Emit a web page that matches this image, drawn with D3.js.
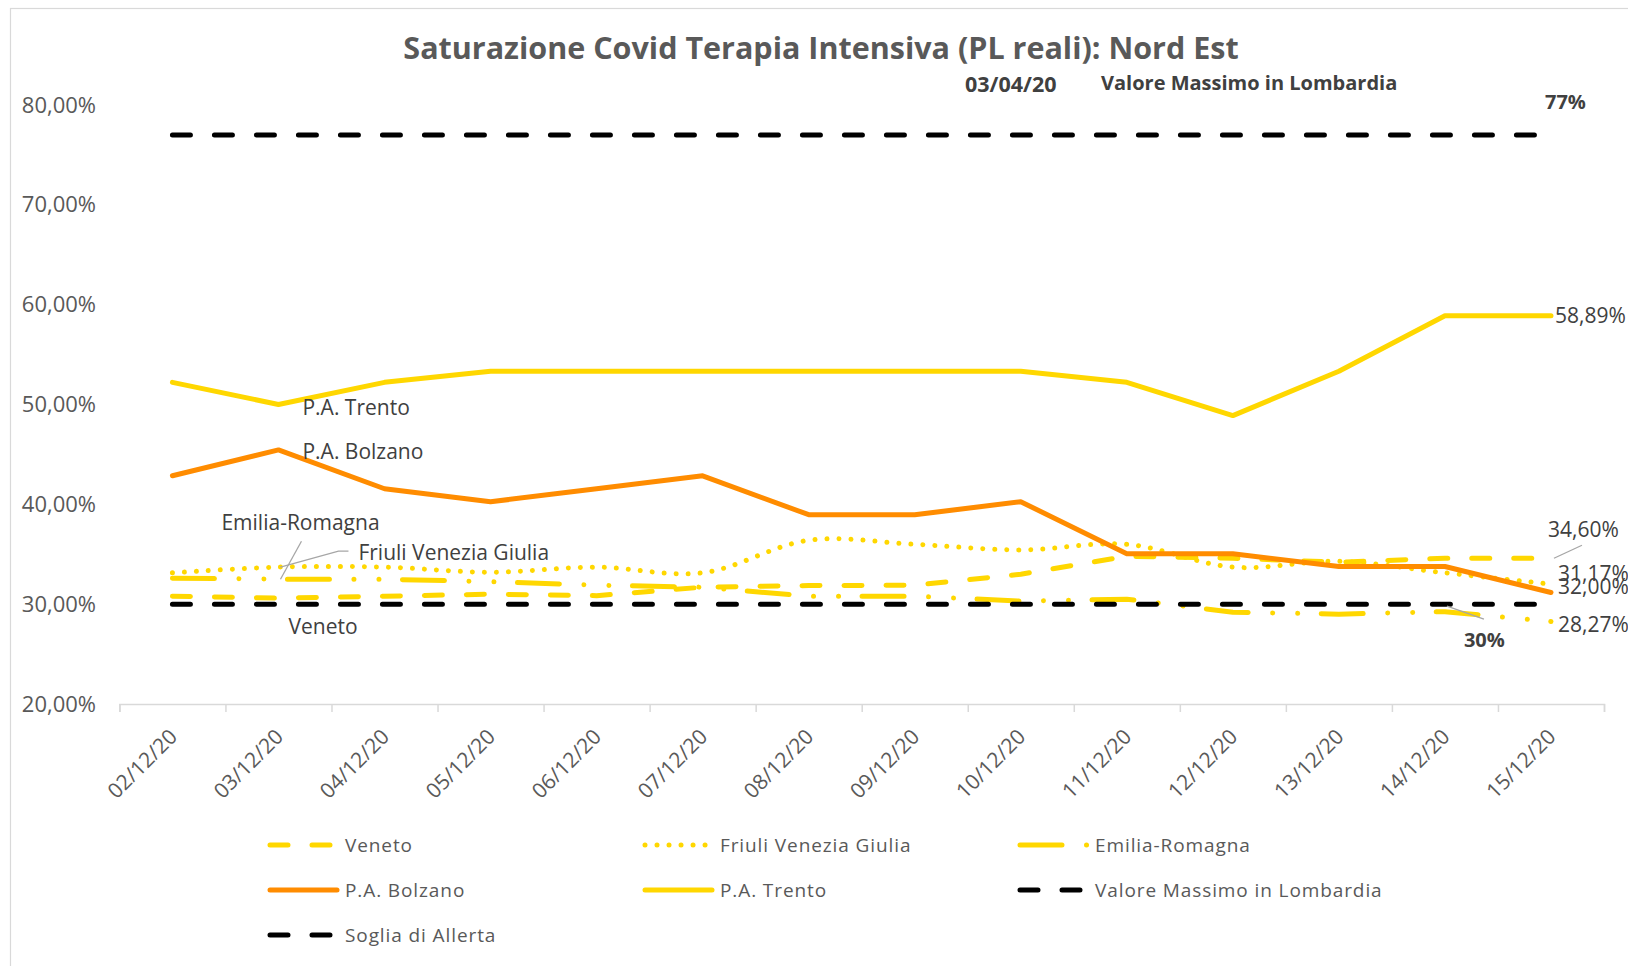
<!DOCTYPE html>
<html>
<head>
<meta charset="utf-8">
<script src="https://d3js.org/d3.v7.min.js"></script>
<style>
  body { margin: 0; background: #fff; }
  svg text { font-family: "Open Sans", sans-serif; }
</style>
</head>
<body>
<svg id="chart" width="1628" height="966"></svg>
<script>
// dati (percentuali)
var dates = ["02/12/20", "03/12/20", "04/12/20", "05/12/20", "06/12/20", "07/12/20", "08/12/20",
             "09/12/20", "10/12/20", "11/12/20", "12/12/20", "13/12/20", "14/12/20", "15/12/20"];
var veneto   = [30.8, 30.6, 30.8, 31.0, 30.85, 31.7, 31.86, 31.9, 33.0, 34.8, 34.6, 34.2, 34.6, 34.6];
var friuli   = [33.14, 33.71, 33.71, 33.2, 33.71, 33.14, 36.4, 36.0, 35.43, 36.0, 33.71, 34.29, 33.14, 32.0];
var emilia   = [32.6, 32.5, 32.5, 32.25, 31.9, 31.7, 30.8, 30.8, 30.3, 30.5, 29.2, 29.0, 29.25, 28.27];
var bolzano  = [42.86, 45.45, 41.56, 40.26, 41.56, 42.86, 38.96, 38.96, 40.26, 35.06, 35.06, 33.77, 33.77, 31.17];
var trento   = [52.22, 50.0, 52.22, 53.33, 53.33, 53.33, 53.33, 53.33, 53.33, 52.22, 48.89, 53.33, 58.89, 58.89];
var lombardiaMax = [77, 77, 77, 77, 77, 77, 77, 77, 77, 77, 77, 77, 77, 77];
var soglia       = [30, 30, 30, 30, 30, 30, 30, 30, 30, 30, 30, 30, 30, 30];
var yTicks = [20, 30, 40, 50, 60, 70, 80];

var title = "Saturazione Covid Terapia Intensiva (PL reali): Nord Est";

var dashes = {
    solid: null,
    dash: "18,24",
    dot: "0.01,12",
    longDashDotDot: "42,24.5,0.01,25,0.01,23.5"
};

var series = [
    {name: "Veneto", values: veneto, color: "#FFD700", dash: dashes.dash},
    {name: "Friuli Venezia Giulia", values: friuli, color: "#FFD700", dash: dashes.dot, smooth: true},
    {name: "Emilia-Romagna", values: emilia, color: "#FFD700", dash: dashes.longDashDotDot},
    {name: "P.A. Bolzano", values: bolzano, color: "#FF8C00", dash: dashes.solid},
    {name: "P.A. Trento", values: trento, color: "#FFD700", dash: dashes.solid},
    {name: "Valore Massimo in Lombardia", values: lombardiaMax, color: "#000000", dash: dashes.dash},
    {name: "Soglia di Allerta", values: soglia, color: "#000000", dash: dashes.dash}
];

var svg = d3.select("#chart");
var it = d3.formatLocale({decimal: ",", thousands: ".", grouping: [3], currency: ["", " €"]});
var fmt = it.format(".2f");
function pct(v) { return fmt(v) + "%"; }

var x = d3.scaleBand().domain(dates).range([119.4, 1604]);
var y = d3.scaleLinear().domain([20, 80]).range([704, 105]);
function cx(i) { return x(dates[i]) + x.bandwidth() / 2; }

// bordo del grafico
svg.append("rect")
    .attr("x", 10.5).attr("y", 8.5)
    .attr("width", 1700).attr("height", 1000)
    .attr("fill", "none").attr("stroke", "#d9d9d9").attr("stroke-width", 1.2);

// titolo
svg.append("text")
    .attr("x", 821).attr("y", 59)
    .attr("text-anchor", "middle")
    .attr("font-size", 30.5).attr("font-weight", "bold")
    .attr("fill", "#595959")
    .text(title);

// asse y (solo etichette)
var yAxis = svg.append("g")
    .attr("transform", "translate(96,0)")
    .call(d3.axisLeft(y).tickValues(yTicks).tickSize(0).tickPadding(0).tickFormat(pct));
yAxis.select(".domain").remove();
yAxis.selectAll("text")
    .attr("font-size", 22).attr("fill", "#595959")
    .style("font-family", "Open Sans");

// asse x: tacche tra le categorie
var xEdges = d3.scaleLinear().domain([0, dates.length]).range(x.range());
var xAxis = svg.append("g")
    .attr("transform", "translate(0,704)")
    .call(d3.axisBottom(xEdges).tickValues(d3.range(dates.length + 1)).tickSize(8).tickFormat(""));
xAxis.selectAll("path, line").attr("stroke", "#d9d9d9").attr("stroke-width", 1.5);

svg.append("g").selectAll("text")
    .data(dates)
    .join("text")
    .attr("transform", function(d, i) { return "translate(" + (cx(i) + 6) + ",738) rotate(-45)"; })
    .attr("text-anchor", "end")
    .attr("font-size", 21).attr("fill", "#595959")
    .text(function(d) { return d; });

// linee
var plot = svg.append("g");
series.forEach(function(s) {
    var line = d3.line()
        .x(function(d, i) { return cx(i); })
        .y(function(d) { return y(d); })
        .curve(s.smooth ? d3.curveCatmullRom : d3.curveLinear);
    plot.append("path")
        .datum(s.values)
        .attr("d", line)
        .attr("fill", "none")
        .attr("stroke", s.color)
        .attr("stroke-width", 5)
        .attr("stroke-linecap", "round")
        .attr("stroke-linejoin", "round")
        .attr("stroke-dasharray", s.dash);
});

// etichette delle serie
var last = dates.length - 1;
var labels = svg.append("g").attr("fill", "#404040").attr("font-size", 21);

labels.append("text").attr("x", cx(1) + 24).attr("y", y(trento[1]) + 10).text("P.A. Trento");
labels.append("text").attr("x", cx(1) + 24).attr("y", y(bolzano[1]) + 9).text("P.A. Bolzano");
labels.append("text").attr("x", cx(1) - 57).attr("y", y(emilia[1]) - 49).text("Emilia-Romagna");
labels.append("text").attr("x", cx(1) + 80).attr("y", y(friuli[1]) - 7).text("Friuli Venezia Giulia");
labels.append("text").attr("x", cx(1) + 10).attr("y", y(veneto[1]) + 36).text("Veneto");

// valori finali
var endLabels = svg.append("g").attr("fill", "#404040").attr("font-size", 21);
endLabels.append("text").attr("x", cx(last) + 4).attr("y", y(trento[last]) + 7).text(pct(trento[last]));
endLabels.append("text").attr("x", cx(last) - 3).attr("y", y(veneto[last]) - 21).text(pct(veneto[last]));
endLabels.append("text").attr("x", cx(last) + 7).attr("y", y(bolzano[last]) - 11).text(pct(bolzano[last]));
endLabels.append("text").attr("x", cx(last) + 7).attr("y", y(friuli[last]) + 10).text(pct(friuli[last]));
endLabels.append("text").attr("x", cx(last) + 7).attr("y", y(emilia[last]) + 11).text(pct(emilia[last]));

// linee guida delle etichette
var leaders = svg.append("g").attr("fill", "none").attr("stroke", "#a6a6a6").attr("stroke-width", 1.3);
leaders.append("polyline").attr("points", [[cx(1) + 23, y(emilia[1]) - 38], [cx(1) + 2, y(emilia[1])]].join(" "));
leaders.append("polyline").attr("points", [[cx(1) + 70, y(friuli[1]) - 16], [cx(1) + 60, y(friuli[1]) - 16], [cx(1) + 2, y(friuli[1])]].join(" "));
leaders.append("polyline").attr("points", [[cx(last) + 3, y(veneto[last])], [cx(last) + 31, y(veneto[last]) - 13]].join(" "));
leaders.append("polyline").attr("points", [[cx(last - 1) + 2, y(soglia[last - 1]) + 2], [cx(last - 1) + 39, y(soglia[last - 1]) + 15]].join(" "));

// annotazioni soglie
var notes = svg.append("g").attr("fill", "#404040").attr("font-size", 20).attr("font-weight", "bold");
notes.append("text").attr("x", 965).attr("y", y(lombardiaMax[0]) - 43).attr("font-size", 21.5).text("03/04/20");
notes.append("text").attr("x", 1101).attr("y", y(lombardiaMax[0]) - 45).text("Valore Massimo in Lombardia");
notes.append("text").attr("x", cx(last) - 6).attr("y", y(lombardiaMax[last]) - 26).text("77%");
notes.append("text").attr("x", cx(last - 1) + 19).attr("y", y(soglia[last - 1]) + 43).text("30%");

// legenda
var legend = svg.append("g");
series.forEach(function(s, i) {
    var col = i % 3, row = Math.floor(i / 3);
    var g = legend.append("g").attr("transform", "translate(" + (270 + col * 375) + "," + (845 + row * 45) + ")");
    g.append("line")
        .attr("x1", 0).attr("x2", 67)
        .attr("stroke", s.color).attr("stroke-width", 5)
        .attr("stroke-linecap", "round")
        .attr("stroke-dasharray", s.dash);
    g.append("text")
        .attr("x", 75).attr("dy", "0.35em")
        .attr("font-size", 19).attr("letter-spacing", 0.9)
        .attr("fill", "#595959")
        .text(s.name);
});
</script>
</body>
</html>
